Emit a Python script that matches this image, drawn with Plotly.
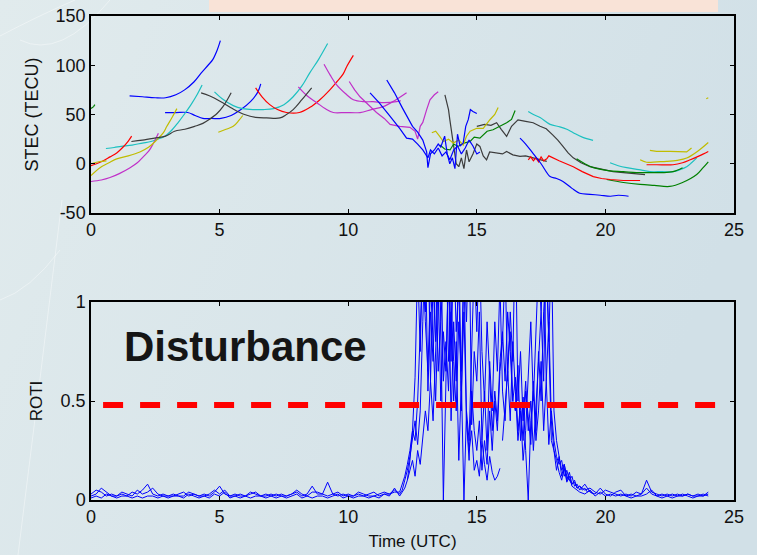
import base64
import plotly.graph_objects as go

# ---------------- STEC arcs (time in UTC hours, STEC in TECU) ----------------
B1_X = [1.5, 2.0, 2.5, 2.9, 3.3, 3.64, 4.0, 4.28, 4.55, 4.74, 4.9, 5.03]
B1_Y = [69, 68, 67, 67, 70, 75, 83, 92, 100, 106, 115, 125]
B2_X = [2.88, 3.3, 3.76, 4.05, 4.35, 4.7, 5.05, 5.45, 5.83, 6.2, 6.49, 6.6]
B2_Y = [52, 52, 52, 49, 46, 46, 46, 49, 55, 63, 73, 81]
B3_X = [10.85, 11.2, 11.6, 12.0, 12.27, 12.5, 12.7, 12.9, 13.1, 13.2, 13.35, 13.5, 13.65, 13.8,
        13.95, 14.1, 14.25, 14.4, 14.55, 14.7, 14.85, 15.0, 15.12]
B3_Y = [72, 62, 49, 36, 26, 25, 20, 14, 6, 14, 10, 16, 8, 12, 4, 14, 18, 10, 16, 24, 18, 10, 12]
B4_X = [11.5, 11.8, 12.1, 12.3, 12.5, 12.7, 12.9, 13.05, 13.1, 13.2, 13.35, 13.5, 13.6, 13.75,
        13.85, 13.95, 14.05, 14.15, 14.25, 14.35, 14.47, 14.57, 14.67, 14.75, 14.85, 15.0]
B4_Y = [85, 72, 57, 48, 38, 32, 24, 12, -4, 10, 14, 20, 17, 28, 10, 0, 6, -5, 30, 18, 21, 38,
        45, 55, 53, 51]
B5_X = [16.68, 16.9, 17.2, 17.5, 17.85, 18.1, 18.35, 18.7, 19.0, 19.4, 19.8, 20.2, 20.5, 20.9]
B5_Y = [26, 20, 10, 0, -13, -15, -18, -25, -30, -31, -32, -33, -32, -33]

C1_X = [0.58, 0.9, 1.17, 1.6, 2.0, 2.33, 2.6, 2.86, 3.1, 3.38, 3.65, 3.89, 4.1, 4.32]
C1_Y = [15.5, 16.5, 17.6, 19, 21, 22.6, 25, 27.7, 33, 41.6, 51, 60, 69, 80]
C2_X = [4.8, 5.1, 5.53, 5.9, 6.3, 6.7, 7.1, 7.5, 7.86, 8.2, 8.5, 8.85, 9.2]
C2_Y = [73, 66, 59, 56, 55, 55, 56, 60, 68, 79, 92, 106, 122]
C3_X = [17.0, 17.2, 17.46, 17.85, 18.23, 18.5, 18.75, 19.1, 19.52]
C3_Y = [53, 50, 47, 40, 37.5, 35, 31.5, 27, 23.7]
C4_X = [20.18, 20.5, 20.83, 21.3, 21.73, 22.2, 22.63, 22.9, 23.16, 23.35, 23.55]
C4_Y = [1, -2, -4, -6, -8, -8, -8, -6, -3, 1, 6]

R1_X = [0.0, 0.4, 0.74, 1.0, 1.25, 1.45, 1.58]
R1_Y = [-2, 2, 7, 11, 17, 23, 28]
R2_X = [6.4, 6.65, 6.95, 7.25, 7.6, 8.1, 8.5, 8.9, 9.25, 9.55, 9.8, 9.95, 10.2]
R2_Y = [77, 68, 60, 55, 52, 52, 57, 65, 74, 83, 91, 99, 110]
R3_X = [17.0, 17.1, 17.2, 17.3, 17.4, 17.5, 17.6, 17.72, 17.8, 18.2, 18.75, 19.1, 19.53, 19.85,
        20.18, 20.7, 21.35]
R3_Y = [4, 7, 3, 6, 2, 7, 3, 5, 8, 3, -3, -8, -13, -15, -16, -17, -17]
R4_X = [21.6, 22.0, 22.63, 23.0, 23.3, 23.65, 24.0]
R4_Y = [-1, -1, -1, 1, 4, 8, 12.5]

M1_X = [0.0, 0.4, 0.74, 1.1, 1.52, 1.8, 2.03, 2.25, 2.43, 2.62]
M1_Y = [-18, -16.5, -14, -10, -4, 1, 7, 13, 21, 31]
M2_X = [8.06, 8.4, 8.78, 9.1, 9.42, 9.9, 10.46, 10.9, 11.36, 11.8, 12.27]
M2_Y = [78, 69, 62, 56, 52, 52, 52, 55, 58, 64, 72]
M3_X = [9.06, 9.3, 9.55, 9.9, 10.2, 10.6, 10.97, 11.4, 11.88, 12.05]
M3_Y = [101, 90, 80, 71, 65, 63, 63, 62, 63, 64]
M4_X = [10.04, 10.25, 10.46, 10.8, 11.1, 11.4, 11.63, 12.0, 12.4, 12.6, 12.7, 12.8, 12.9, 13.05,
        13.18, 13.35, 13.5]
M4_Y = [83.5, 75, 68, 59, 52, 46, 40, 38, 37, 33, 25, 38, 42, 55, 65, 70, 73]

Y1_X = [0.0, 0.35, 0.7, 1.0, 1.45, 1.9, 2.25, 2.55, 2.8, 2.95, 3.15, 3.34]
Y1_Y = [-12, -4, 1, 5, 8, 12, 17, 24, 31, 38, 47, 56]
Y2_X = [0.0, 0.3, 0.6]
Y2_Y = [0, 2, 3]
Y3_X = [4.95, 5.25, 5.53, 5.75, 5.9]
Y3_Y = [32, 35, 38, 44, 49]
Y4_X = [13.25, 13.4, 13.55, 13.7, 13.9, 14.08, 14.3, 14.47, 14.6, 14.74, 15.0, 15.25, 15.51,
        15.7, 15.83]
Y4_Y = [31.5, 33, 28, 22.6, 25, 21, 24, 19, 28, 33, 36, 36, 44.7, 50, 57]
Y5_X = [21.73, 21.99, 22.5, 23.16, 23.35]
Y5_Y = [13.5, 12.5, 12.5, 12, 16]
Y6_X = [21.35, 21.6, 22.0, 22.38, 22.8, 23.16, 23.6, 24.0]
Y6_Y = [4, 1.5, 2, 2.4, 3.5, 5.8, 13, 21.6]
Y7_X = [23.92, 24.0]
Y7_Y = [66, 67]

G0_X = [0.0, 0.1, 0.15]
G0_Y = [56, 58, 60]
G1_X = [13.57, 13.75, 13.96, 14.1, 14.27, 14.5, 14.74, 14.9, 15.12, 15.4, 15.63, 15.9, 16.16,
        16.35, 16.49]
G1_Y = [19, 15, 14, 20, 17.6, 21, 22.6, 27, 26, 33, 34.5, 38, 41.6, 45, 54]
G2_X = [18.88, 19.2, 19.53, 20.1, 20.7, 21.2, 21.73, 22.2, 22.63, 23.0]
G2_Y = [5, 0, -4, -7, -8, -9, -9, -9, -8, -4]
G3_X = [20.05, 20.7, 21.35, 21.9, 22.5, 23.0, 23.55, 23.8, 24.0]
G3_Y = [-16, -19, -21, -22, -23, -19, -11, -4, 2]

K1_X = [1.57, 2.0, 2.47, 2.9, 3.25, 3.65, 4.03, 4.35, 4.6, 4.9, 5.13, 5.3, 5.45]
K1_Y = [22.6, 24, 26, 28, 33, 35, 38, 41, 45, 51, 58, 65, 72]
K2_X = [4.28, 4.6, 5.05, 5.5, 5.97, 6.4, 6.83, 7.35, 7.6, 7.86, 8.2, 8.58]
K2_Y = [72, 69, 63, 56, 50, 47, 46.5, 46.5, 50, 55, 65, 77]
K3_X = [13.76, 13.85, 13.9, 13.95, 14.0, 14.05, 14.12, 14.2, 14.3, 14.4, 14.5, 14.6, 14.7, 14.85,
        15.0, 15.12, 15.25, 15.38, 15.5, 15.77, 16.0, 16.16, 16.4, 16.68, 16.9, 17.19, 17.45,
        17.72]
K3_Y = [70, 62, 55, 45, 35, 25, 12, 0, -3, 6, -5, 14, 2, 10, 20, 17.6, 8, 4, 12, 11, 10, 12.5,
        9, 7.4, 8, 6, 4, 2.4]
K4_X = [15.0, 15.3, 15.55, 15.77, 15.95, 16.16, 16.35, 16.6, 16.9, 17.19, 17.46, 17.7, 17.96,
        18.15, 18.35, 18.55, 18.75, 19.05, 19.4, 19.9, 20.3, 20.7, 21.1, 21.54]
K4_Y = [38, 40, 39, 41.6, 35, 27.7, 38, 44.6, 43, 41.6, 38, 35.5, 29, 24, 17.6, 11, 6, 1, -3,
        -6, -8, -9, -10, -11]

# ---------------- ROTI series ----------------
# baseline sampled every 0.2 h from 0 h, disturbance every 0.1 h from 12 h, tail every 0.2 h from 19 h
ROTI_A_BASE = [0.03, 0.05, 0.04, 0.02, 0.03, 0.02, 0.03, 0.02, 0.04, 0.03,
               0.05, 0.08, 0.03, 0.02, 0.03, 0.02, 0.02, 0.03, 0.04, 0.02,
               0.03, 0.02, 0.03, 0.02, 0.04, 0.07, 0.03, 0.02, 0.02, 0.03,
               0.02, 0.03, 0.04, 0.02, 0.02, 0.03, 0.02, 0.03, 0.02, 0.03,
               0.04, 0.02, 0.03, 0.07, 0.03, 0.03, 0.09, 0.03, 0.04, 0.02,
               0.03, 0.02, 0.03, 0.02, 0.03, 0.04, 0.02, 0.03, 0.03, 0.04]
ROTI_B_BASE = [0.02, 0.03, 0.06, 0.04, 0.02, 0.02, 0.04, 0.03, 0.02, 0.05,
               0.03, 0.04, 0.06, 0.03, 0.02, 0.02, 0.03, 0.02, 0.02, 0.04,
               0.03, 0.02, 0.02, 0.03, 0.05, 0.03, 0.05, 0.02, 0.03, 0.02,
               0.02, 0.04, 0.03, 0.02, 0.03, 0.02, 0.03, 0.02, 0.02, 0.03,
               0.05, 0.03, 0.02, 0.04, 0.04, 0.03, 0.02, 0.03, 0.02, 0.03,
               0.02, 0.02, 0.04, 0.03, 0.02, 0.02, 0.03, 0.04, 0.03, 0.05]
ROTI_C_BASE = [0.01, 0.02, 0.01, 0.03, 0.02, 0.01, 0.02, 0.02, 0.01, 0.02,
               0.01, 0.02, 0.02, 0.01, 0.02, 0.01, 0.02, 0.02, 0.01, 0.03,
               0.02, 0.01, 0.02, 0.01, 0.03, 0.02, 0.04, 0.01, 0.02, 0.01,
               0.02, 0.01, 0.02, 0.02, 0.01, 0.02, 0.01, 0.02, 0.01, 0.02,
               0.03, 0.01, 0.02, 0.01, 0.02, 0.02, 0.01, 0.02, 0.03, 0.01,
               0.02, 0.01, 0.02, 0.02, 0.01, 0.02, 0.01, 0.03, 0.02, 0.06]

ROTI_A_DIST = [0.04, 0.08, 0.12, 0.18, 0.25, 0.35, 0.62, 1.2, 0.75, 1.3,
               0.95, 1.4, 0.6, 1.1, 0.8, 1.5, 0.9, 0.0, 0.55, 1.2,
               0.7, 1.3, 0.85, 1.1, 0.45, 1.25, 0.9, 1.4, 0.38, 0.75,
               0.6, 0.95, 0.3, 0.55, 0.25, 0.7, 0.45, 0.9, 0.65, 1.1,
               0.55, 0.4, 0.7, 0.85, 0.5, 0.62, 0.35, 0.48, 0.3, 0.55,
               0.42, 0.28, 0.6, 0.35, 0.75, 0.5, 0.95, 1.2, 0.8, 1.3,
               0.45, 0.3, 0.22, 0.15, 0.18, 0.12, 0.1, 0.08, 0.09, 0.06]
ROTI_B_DIST = [0.03, 0.05, 0.1, 0.15, 0.22, 0.3, 0.4, 0.28, 0.45, 0.9,
               1.3, 0.55, 0.95, 0.7, 1.2, 0.65, 0.85, 1.1, 1.4, 0.7,
               0.95, 0.5, 0.8, 0.2, 0.6, 0.0, 0.45, 0.3, 0.7, 1.2,
               0.85, 1.3, 0.75, 0.5, 0.9, 0.6, 0.35, 0.55, 0.4, 0.7,
               0.85, 0.6, 0.95, 0.75, 0.5, 0.45, 0.68, 0.3, 0.52, 0.25,
               0.0, 0.4, 0.55, 0.3, 0.45, 0.7, 0.35, 0.6, 0.28, 0.45,
               0.3, 0.22, 0.18, 0.2, 0.12, 0.15, 0.1, 0.12, 0.07, 0.08]
ROTI_C_DIST = [0.02, 0.04, 0.06, 0.1, 0.15, 0.2, 0.12, 0.25, 0.18, 0.3,
               0.45, 0.35, 0.6, 0.4, 0.75, 1.1, 0.5, 0.85, 0.65, 1.2,
               0.4, 0.9, 0.6, 1.3, 0.55, 0.95, 0.4, 0.2, 0.55, 0.35,
               0.25, 0.4, 0.15, 0.3, 0.18, 0.45, 0.25, 0.5, 0.35, 0.65,
               0.8, 1.2, 0.6, 0.95, 0.7, 1.4, 0.5, 0.75, 0.4, 0.6,
               0.35, 0.5, 0.25, 0.45, 0.7, 0.95, 1.3, 0.6, 0.9, 0.4,
               0.25, 0.2, 0.14, 0.1, 0.16, 0.09, 0.12, 0.07, 0.06, 0.05]

ROTI_A_TAIL = [0.07, 0.05, 0.06, 0.04, 0.03, 0.05, 0.04, 0.03, 0.02, 0.03, 0.02, 0.04, 0.03,
               0.06, 0.03, 0.02, 0.03, 0.02, 0.03, 0.02, 0.02, 0.03, 0.02, 0.02, 0.03, 0.02]
ROTI_B_TAIL = [0.05, 0.08, 0.04, 0.03, 0.06, 0.03, 0.02, 0.04, 0.05, 0.02, 0.03, 0.02, 0.03,
               0.1, 0.04, 0.03, 0.02, 0.03, 0.02, 0.03, 0.02, 0.03, 0.02, 0.03, 0.02, 0.04]
ROTI_C_TAIL = [0.04, 0.03, 0.05, 0.02, 0.04, 0.02, 0.03, 0.02, 0.03, 0.02, 0.01, 0.02, 0.02,
               0.03, 0.05, 0.02, 0.01, 0.02, 0.01, 0.02, 0.03, 0.02, 0.01, 0.02, 0.02, 0.03]

# extra short arcs in the disturbed period (0.1 h sampling)
ROTI_D_START = 12.3
ROTI_D = [0.1, 0.2, 0.35, 0.3, 0.5, 0.85, 1.2, 0.9, 0.65, 1.1,
          0.75, 0.5, 0.95, 1.3, 0.6, 0.8, 0.55, 1.0, 0.7, 0.45,
          0.9, 0.65, 1.2, 0.4, 0.25, 0.35, 0.15, 0.2, 0.12, 0.3,
          0.18, 0.1, 0.22, 0.14, 0.1, 0.12, 0.16]
ROTI_E_START = 16.0
ROTI_E = [0.3, 0.5, 0.65, 0.4, 0.8, 0.55, 0.3, 0.45, 0.2, 0.35, 0.6, 0.9, 0.5, 0.75, 1.2, 0.95,
          0.6, 1.3, 0.85, 0.3, 0.25, 0.15, 0.22, 0.12, 0.18, 0.1, 0.14, 0.08, 0.1, 0.06, 0.07,
          0.05, 0.06, 0.04, 0.05, 0.03]

THRESHOLD = 0.48
THRESHOLD_SPAN = [0.47, 24.5]

X_TICKS = [0, 5, 10, 15, 20, 25]
STEC_TICKS = [-50, 0, 50, 100, 150]
STEC_TICKTEXT = ["-50", "0", "50", "100", "150"]
ROTI_TICKS = [0, 0.5, 1]
ROTI_TICKTEXT = ["0", "0.5", "1"]

# ---------------- styles ----------------
BLUE, GREEN, RED = "#0000ff", "#008000", "#ff0000"
CYAN, MAGENTA, YELLOW, BLACK = "#1cc0c0", "#c030c8", "#c0bc00", "#3c3c3c"
FONT = "Liberation Sans, Arial, sans-serif"

arcs = [
    (B1_X, B1_Y, BLUE, "spline"), (B2_X, B2_Y, BLUE, "spline"),
    (C1_X, C1_Y, CYAN, "spline"), (C2_X, C2_Y, CYAN, "spline"),
    (R1_X, R1_Y, RED, "spline"), (R2_X, R2_Y, RED, "spline"),
    (M1_X, M1_Y, MAGENTA, "spline"), (M2_X, M2_Y, MAGENTA, "spline"),
    (M3_X, M3_Y, MAGENTA, "spline"), (M4_X, M4_Y, MAGENTA, "linear"),
    (Y1_X, Y1_Y, YELLOW, "spline"), (Y2_X, Y2_Y, YELLOW, "spline"),
    (Y3_X, Y3_Y, YELLOW, "spline"),
    (G0_X, G0_Y, GREEN, "linear"),
    (K1_X, K1_Y, BLACK, "spline"), (K2_X, K2_Y, BLACK, "spline"),
    (K4_X, K4_Y, BLACK, "linear"), (K3_X, K3_Y, BLACK, "linear"),
    (C3_X, C3_Y, CYAN, "spline"), (C4_X, C4_Y, CYAN, "spline"),
    (G1_X, G1_Y, GREEN, "linear"), (G2_X, G2_Y, GREEN, "spline"),
    (G3_X, G3_Y, GREEN, "spline"),
    (R3_X, R3_Y, RED, "linear"), (R4_X, R4_Y, RED, "spline"),
    (Y4_X, Y4_Y, YELLOW, "linear"), (Y5_X, Y5_Y, YELLOW, "linear"),
    (Y6_X, Y6_Y, YELLOW, "spline"), (Y7_X, Y7_Y, YELLOW, "linear"),
    (B3_X, B3_Y, BLUE, "linear"), (B4_X, B4_Y, BLUE, "linear"), (B5_X, B5_Y, BLUE, "spline"),
]

fig = go.Figure()
for xs, ys, col, shp in arcs:
    fig.add_trace(go.Scatter(x=xs, y=ys, mode="lines", line=dict(color=col, width=1.2, shape=shp),
                             xaxis="x", yaxis="y", showlegend=False, hoverinfo="skip"))


def series_times(n, start, step):
    return [round(start + step * i, 3) for i in range(n)]


full_series = [(ROTI_A_BASE, ROTI_A_DIST, ROTI_A_TAIL),
               (ROTI_B_BASE, ROTI_B_DIST, ROTI_B_TAIL),
               (ROTI_C_BASE, ROTI_C_DIST, ROTI_C_TAIL)]
for base, dist, tail in full_series:
    t = series_times(len(base), 0.0, 0.2) + series_times(len(dist), 12.0, 0.1) + \
        series_times(len(tail), 19.0, 0.2)
    fig.add_trace(go.Scatter(x=t, y=base + dist + tail, mode="lines",
                             line=dict(color=BLUE, width=1), xaxis="x2", yaxis="y2",
                             showlegend=False, hoverinfo="skip"))
for start, vals in [(ROTI_D_START, ROTI_D), (ROTI_E_START, ROTI_E)]:
    fig.add_trace(go.Scatter(x=series_times(len(vals), start, 0.1), y=vals, mode="lines",
                             line=dict(color=BLUE, width=1), xaxis="x2", yaxis="y2",
                             showlegend=False, hoverinfo="skip"))

fig.add_trace(go.Scatter(x=THRESHOLD_SPAN, y=[THRESHOLD, THRESHOLD], mode="lines",
                         line=dict(color="#ff0000", width=6, dash="20px,17px"),
                         xaxis="x2", yaxis="y2", showlegend=False, hoverinfo="skip"))

# ---------------- background (soft gradient + faint decorative strokes) ----------------
svg = """<svg xmlns='http://www.w3.org/2000/svg' width='757' height='555' viewBox='0 0 757 555'>
<defs><linearGradient id='g' x1='0' y1='0' x2='1' y2='0.3'>
<stop offset='0' stop-color='#e1ebed'/><stop offset='1' stop-color='#d1e0e7'/></linearGradient></defs>
<rect width='757' height='555' fill='url(#g)'/>
<g fill='none' stroke='#ffffff' stroke-opacity='0.4' stroke-width='1'>
<path d='M0 36 Q 40 15 75 0'/>
<path d='M62 200 Q 40 380 18 555'/>
<path d='M0 300 Q 30 290 60 250'/>
<path d='M110 0 Q 60 60 20 40'/>
</g></svg>"""
src = "data:image/svg+xml;base64," + base64.b64encode(svg.encode()).decode()

W, H = 757, 555
ML, MR, MT, MB = 91, 23, 16, 55
PW, PH = W - ML - MR, H - MT - MB
fig.add_layout_image(dict(source=src, xref="paper", yref="paper", x=-ML / PW, y=1 + MT / PH,
                          sizex=W / PW, sizey=H / PH, sizing="stretch", layer="below",
                          xanchor="left", yanchor="top"))
# pink banner at top
fig.add_shape(type="rect", xref="paper", yref="paper", x0=(209 - ML) / PW, x1=(718 - ML) / PW,
              y0=(H - MB - 12) / PH, y1=1 + MT / PH, fillcolor="#f9e3d7", line_width=0,
              layer="below")

axis_common = dict(showline=True, linecolor="black", linewidth=1.5, mirror="ticks",
                   ticks="inside", ticklen=4, tickwidth=1, tickcolor="black", showgrid=False,
                   zeroline=False, automargin=False,
                   tickfont=dict(family=FONT, size=18, color="#111111"))

top_dom = [(H - MB - 213) / PH, 1.0]
bot_dom = [0.0, (H - MB - 302) / PH]

fig.update_layout(
    width=W, height=H, margin=dict(l=ML, r=MR, t=MT, b=MB, autoexpand=False),
    paper_bgcolor="#d9e6ea", plot_bgcolor="white",
    xaxis=dict(domain=[0, 1], range=[0, 25], tickvals=X_TICKS, anchor="y", **axis_common),
    yaxis=dict(domain=top_dom, range=[-50, 150], tickvals=STEC_TICKS, ticktext=STEC_TICKTEXT,
               anchor="x", title=dict(text="STEC (TECU)", font=dict(family=FONT, size=18,
                                                                     color="#111111"),
                                      standoff=12), **axis_common),
    xaxis2=dict(domain=[0, 1], range=[0, 25], tickvals=X_TICKS, anchor="y2",
                title=dict(text="Time (UTC)", font=dict(family=FONT, size=17, color="#111111"),
                           standoff=9), **axis_common),
    yaxis2=dict(domain=bot_dom, range=[0, 1], tickvals=ROTI_TICKS, ticktext=ROTI_TICKTEXT,
                anchor="x2", title=dict(text="ROTI", font=dict(family=FONT, size=17,
                                                                color="#111111"),
                                        standoff=14), **axis_common),
    annotations=[dict(text="<b>Disturbance</b>", x=6.0, y=0.775, xref="x2", yref="y2",
                      showarrow=False, font=dict(family=FONT, size=42, color="#151515"))],
)

fig.write_html("out.html")
